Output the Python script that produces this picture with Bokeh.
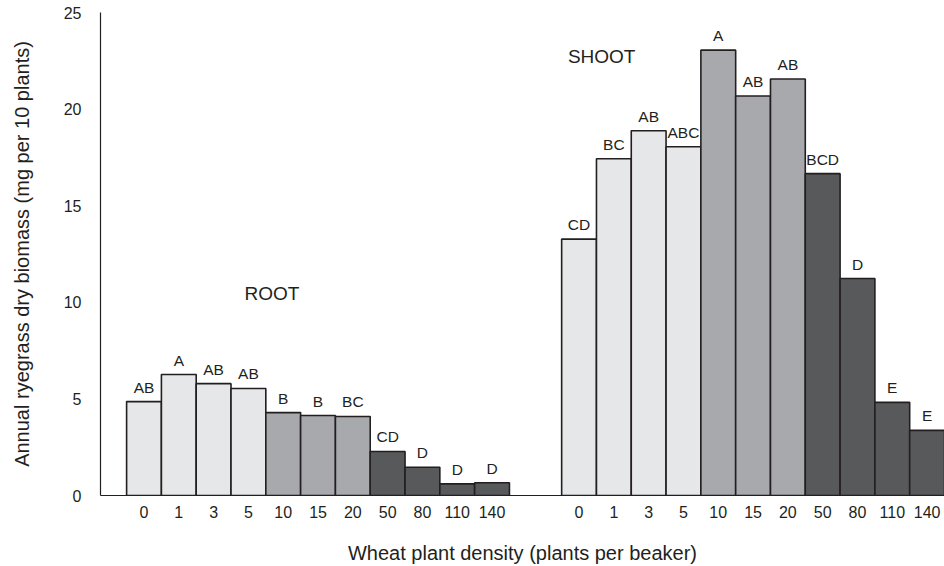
from bokeh.plotting import figure
from bokeh.models import FixedTicker, Range1d, ColumnDataSource, Label
from bokeh.core.properties import value
from bokeh.embed import file_html
from bokeh.resources import INLINE

# ---- data ----
densities = ["0", "1", "3", "5", "10", "15", "20", "50", "80", "110", "140"]
density_class = ["low", "low", "low", "low", "mid", "mid", "mid", "high", "high", "high", "high"]
root_values = [4.86, 6.26, 5.79, 5.54, 4.29, 4.14, 4.09, 2.28, 1.46, 0.60, 0.66]
root_letters = ["AB", "A", "AB", "AB", "B", "B", "BC", "CD", "D", "D", "D"]
shoot_values = [13.27, 17.43, 18.88, 18.05, 23.05, 20.68, 21.56, 16.66, 11.23, 4.82, 3.37]
shoot_letters = ["CD", "BC", "AB", "ABC", "A", "AB", "AB", "BCD", "D", "E", "E"]
y_ticks = [0, 5, 10, 15, 20, 25]

# ---- styling ----
FONT = "Liberation Sans"
INK = "#231f20"
class_colors = {"low": "#e6e7e8", "mid": "#a7a9ac", "high": "#58595b"}

# layout in quarter-bar units: each bar is 4 units wide
BAR_W = 4
ROOT_START = 3
SHOOT_START = ROOT_START + BAR_W * len(densities) + 6
X_END = SHOOT_START + BAR_W * len(densities)

root_x = [ROOT_START + BAR_W * i + BAR_W / 2 for i in range(len(densities))]
shoot_x = [SHOOT_START + BAR_W * i + BAR_W / 2 for i in range(len(densities))]

p = figure(width=944, height=566, output_backend="svg", toolbar_location=None,
           x_range=Range1d(0, X_END), y_range=Range1d(0, 25),
           min_border_left=100, min_border_right=0, min_border_top=12, min_border_bottom=71)
p.outline_line_color = None
p.xgrid.visible = False
p.ygrid.visible = False
p.background_fill_color = "white"

colors = [class_colors[c] for c in density_class]
src_root = ColumnDataSource(dict(x=root_x, top=root_values, color=colors, lab=root_letters))
src_shoot = ColumnDataSource(dict(x=shoot_x, top=shoot_values, color=colors, lab=shoot_letters))

for src in (src_root, src_shoot):
    p.vbar(x="x", top="top", bottom=0, width=BAR_W, fill_color="color",
           line_color=INK, line_width=1.6, source=src)
    p.text(x="x", y="top", text="lab", source=src, text_align="center",
           text_baseline="bottom", y_offset=-6, text_font=value(FONT),
           text_font_size="15.5px", text_color=INK)

p.add_layout(Label(x=19.7, y=10.43, text="ROOT", text_align="center", text_baseline="middle",
                   text_font=FONT, text_font_size="19px", text_color=INK))
p.add_layout(Label(x=57.6, y=22.7, text="SHOOT", text_align="center", text_baseline="middle",
                   text_font=FONT, text_font_size="19px", text_color=INK))

# x axis
xt = [int(v) for v in root_x + shoot_x]
p.xaxis.ticker = FixedTicker(ticks=xt)
p.xaxis.major_label_overrides = {t: d for t, d in zip(xt, densities + densities)}
p.xaxis.major_tick_out = 0
p.xaxis.major_tick_in = 0
p.xaxis.minor_tick_line_color = None
p.xaxis.major_label_standoff = 10
p.xaxis.axis_label = "Wheat plant density (plants per beaker)"
p.xaxis.axis_label_standoff = 21

# y axis
p.yaxis.ticker = FixedTicker(ticks=y_ticks)
p.yaxis.major_tick_out = 7
p.yaxis.major_tick_in = 0
p.yaxis.minor_tick_line_color = None
p.yaxis.major_label_standoff = 12
p.yaxis.axis_label = "Annual ryegrass dry biomass (mg per 10 plants)"
p.yaxis.axis_label_standoff = 28

for ax in (p.xaxis, p.yaxis):
    ax.axis_line_color = INK
    ax.axis_line_width = 1.2
    ax.major_tick_line_color = INK if ax is p.yaxis else None
    ax.major_label_text_font = FONT
    ax.major_label_text_font_size = "16px"
    ax.major_label_text_color = INK
    ax.axis_label_text_font = FONT
    ax.axis_label_text_font_size = "20px"
    ax.axis_label_text_font_style = "normal"
    ax.axis_label_text_color = INK

open("out.html", "w").write(file_html(p, INLINE))
